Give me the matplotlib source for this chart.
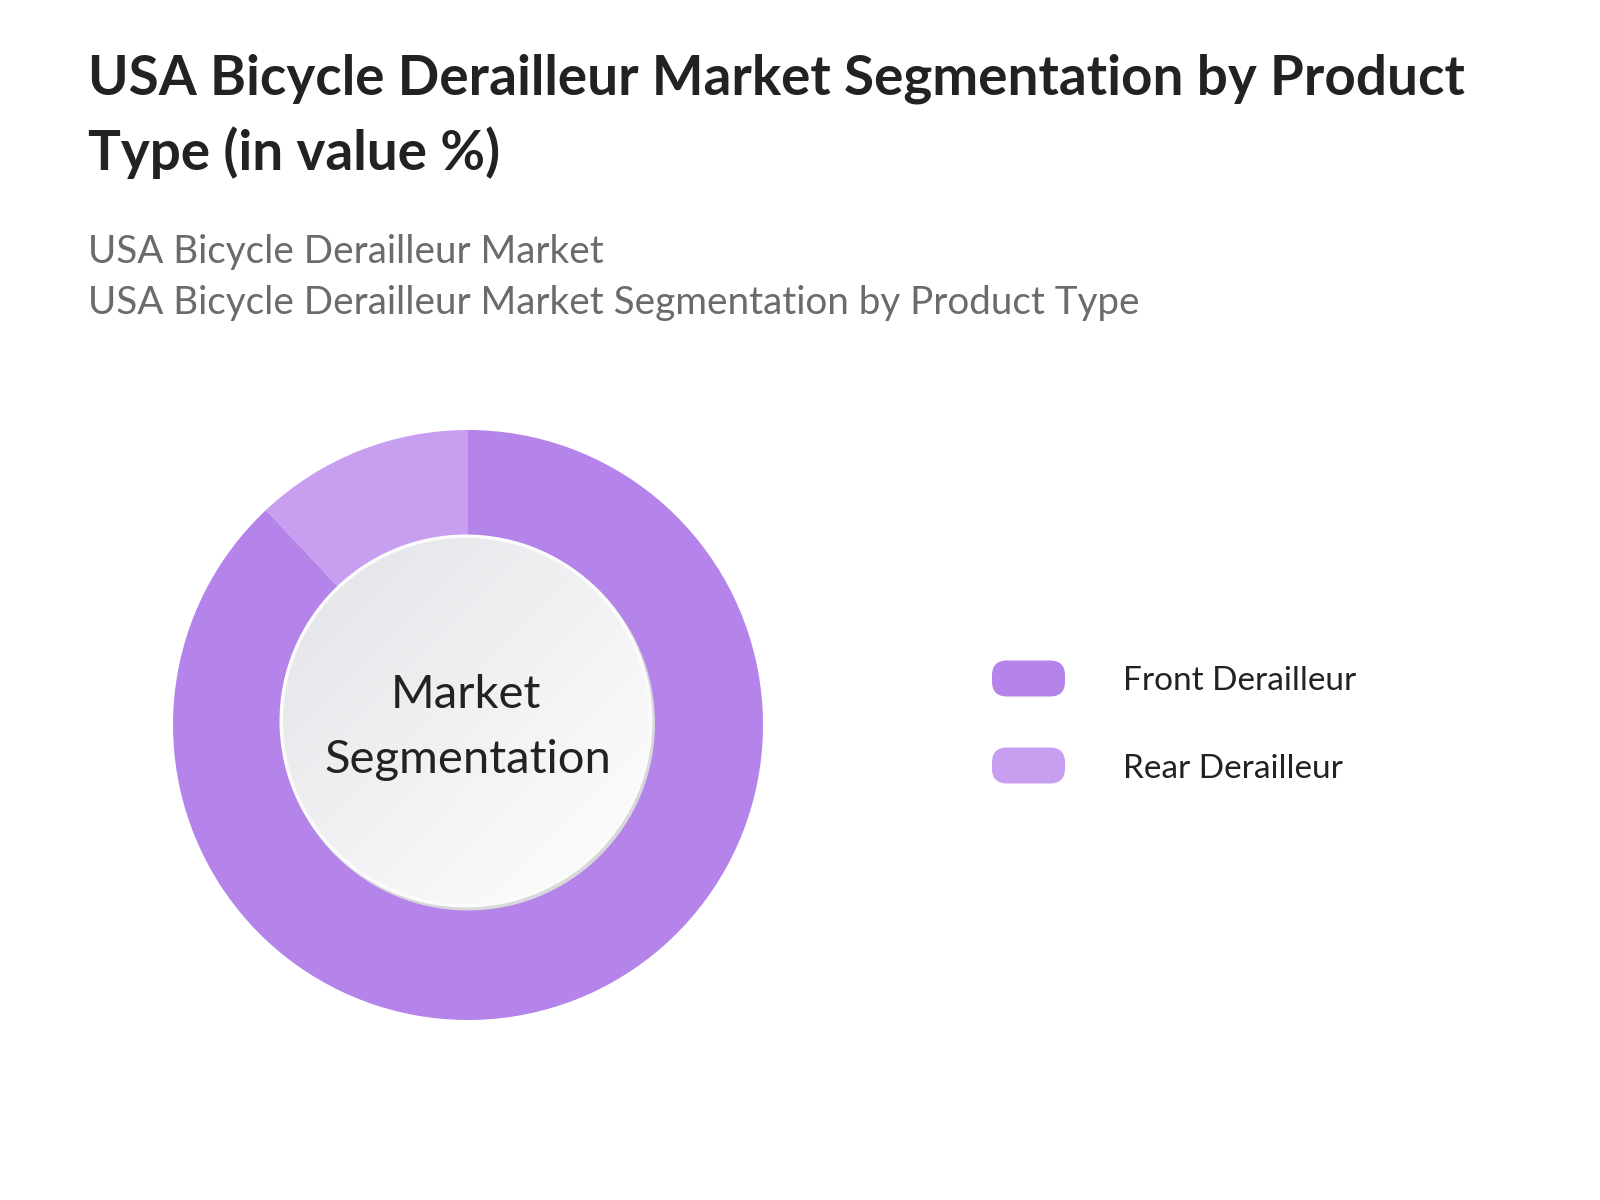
import numpy as np
import matplotlib
matplotlib.use("Agg")
from matplotlib import pyplot as plt
from matplotlib.patches import Circle, FancyBboxPatch

# Data
segments = ["Front Derailleur", "Rear Derailleur"]
shares = [88, 12]
seg_colors = ["#B584EB", "#C89EF0"]

title_lines = ["USA Bicycle Derailleur Market Segmentation by Product", "Type (in value %)"]
subtitle_lines = ["USA Bicycle Derailleur Market",
                  "USA Bicycle Derailleur Market Segmentation by Product Type"]
center_lines = ["Market", "Segmentation"]

W, H = 1600, 1200
plt.rcParams['font.family'] = ['Lato', 'DejaVu Sans']

fig = plt.figure(figsize=(W / 100, H / 100), dpi=100)
fig.patch.set_facecolor("white")

# overlay in pixel coordinates (y down)
bg = fig.add_axes([0, 0, 1, 1])
bg.set_xlim(0, W)
bg.set_ylim(H, 0)
bg.axis("off")

# titles
bg.text(88, 95, title_lines[0], fontsize=39.4, fontweight="bold", color="#222222", va="baseline")
bg.text(88, 170, title_lines[1], fontsize=39.4, fontweight="bold", color="#222222", va="baseline")
bg.text(88, 263, subtitle_lines[0], fontsize=27.8, color="#6b6b6b", va="baseline")
bg.text(88, 314, subtitle_lines[1], fontsize=27.8, color="#6b6b6b", va="baseline")

# donut
cx, cy = 468, 725
R_out, R_in = 295, 180
half = 310
ax = fig.add_axes([(cx - half) / W, (H - cy - half) / H, 2 * half / W, 2 * half / H])
ax.pie(shares, colors=seg_colors, startangle=90, counterclock=False, radius=R_out,
       wedgeprops=dict(width=R_out - R_in, edgecolor="none"))
ax.set_xlim(-half, half)
ax.set_ylim(-half, half)
ax.set_aspect("equal")
ax.axis("off")

# inner disc: shadow, white rim, gradient face
dx, dy = -2, 4
ax.add_patch(Circle((dx + 2, dy - 2.5), 187, facecolor="#d8d8db", edgecolor="none", zorder=3))
ax.add_patch(Circle((dx, dy), 186.5, facecolor="#fbfbfc", edgecolor="none", zorder=4))
gx, gy = np.meshgrid(np.linspace(-1, 1, 300), np.linspace(1, -1, 300))
t = np.clip((gx - gy + 2) / 4, 0, 1)
start = np.array([0.885, 0.885, 0.905])
end = np.array([1.0, 1.0, 1.0])
grad = start + (end - start) * t[..., None] ** 0.9
im = ax.imshow(grad, extent=(dx - 184, dx + 184, dy - 184, dy + 184), zorder=5,
               interpolation="bilinear")
im.set_clip_path(Circle((dx, dy), 183, transform=ax.transData))

ax.text(-2, 725 - 708, center_lines[0], fontsize=33.9, color="#222222",
        ha="center", va="baseline", zorder=6)
ax.text(0, 725 - 773, center_lines[1], fontsize=33.9, color="#222222",
        ha="center", va="baseline", zorder=6)

# legend
for i, (lab, col) in enumerate(zip(segments, seg_colors)):
    y = 678.5 + i * 87
    bg.add_patch(FancyBboxPatch((992, y - 18), 73, 36,
                                boxstyle="round,pad=0,rounding_size=15",
                                facecolor=col, edgecolor="none"))
    bg.text(1123, y + 12, lab, fontsize=24, color="#222222", va="baseline")

fig.savefig("out.png", dpi=100)
